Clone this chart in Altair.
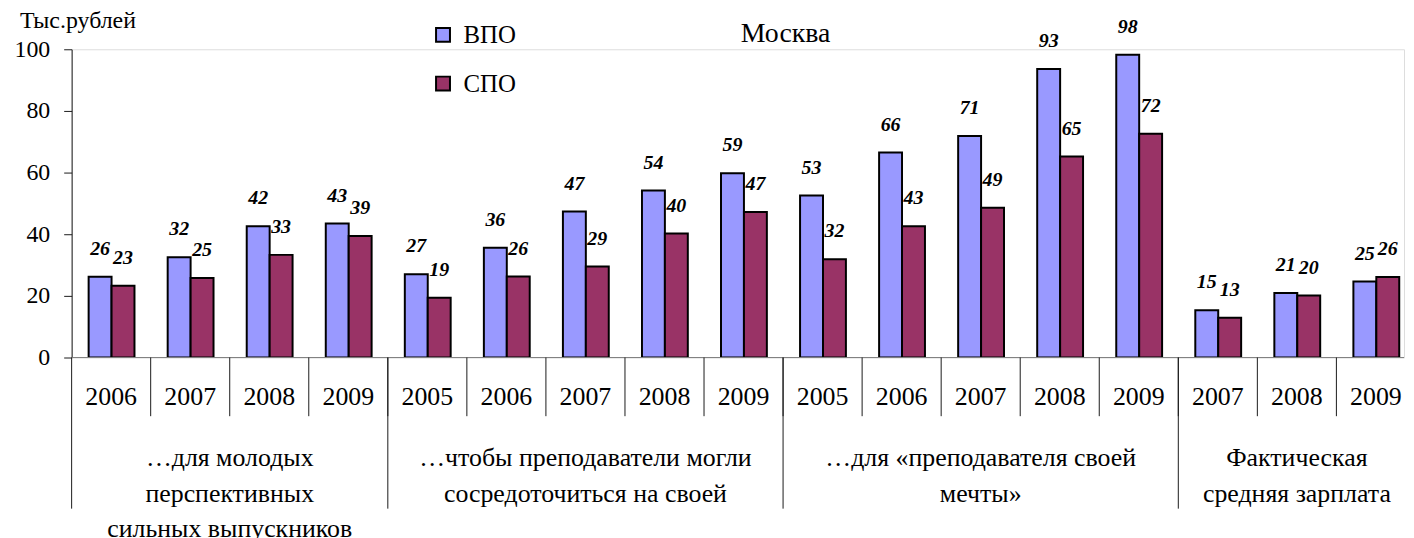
import altair as alt
import pandas as pd

# ---------------- data ----------------
years = ["2006", "2007", "2008", "2009",
         "2005", "2006", "2007", "2008", "2009",
         "2005", "2006", "2007", "2008", "2009",
         "2007", "2008", "2009"]
vpo_values = [26.2, 32.5, 42.6, 43.5,
              27.0, 35.6, 47.4, 54.2, 59.8,
              52.6, 66.5, 71.9, 93.6, 98.2,
              15.3, 20.9, 24.7]
spo_values = [23.3, 25.8, 33.3, 39.4,
              19.4, 26.3, 29.5, 40.2, 47.2,
              31.9, 42.6, 48.6, 65.2, 72.6,
              12.9, 20.1, 26.1]
vpo_labels = [26, 32, 42, 43, 27, 36, 47, 54, 59, 53, 66, 71, 93, 98, 15, 21, 25]
spo_labels = [23, 25, 33, 39, 19, 26, 29, 40, 47, 32, 43, 49, 65, 72, 13, 20, 26]
series_names = ["ВПО", "СПО"]
series_colors = ["#9999FF", "#993366"]
group_sizes = [4, 5, 5, 3]
group_texts = [
    "…для молодых\nперспективных\nсильных выпускников",
    "…чтобы преподаватели могли\nсосредоточиться на своей",
    "…для «преподавателя своей\nмечты»",
    "Фактическая\nсредняя зарплата",
]
y_ticks = [0, 20, 40, 60, 80, 100]
y_title = "Тыс.рублей"
chart_title = "Москва"

# ---------------- layout ----------------
FONT = "Liberation Serif"
PLOT_W, PLOT_H = 1340, 310
STEP = 79.5
X_MAX = PLOT_W / STEP
BAR_W = 0.29
OFFSETS = [0.215, 0.505]
LINE_COLOR = "#1a1a1a"
AXIS_GRAY = "#7f7f7f"

rows = []
for i, yr in enumerate(years):
    for s, vals, labs, off in ((series_names[0], vpo_values, vpo_labels, OFFSETS[0]),
                               (series_names[1], spo_values, spo_labels, OFFSETS[1])):
        rows.append(dict(idx=i, year=yr, series=s, value=vals[i], label=str(labs[i]),
                         x0=i + off, x1=i + off + BAR_W, xc=i + off + BAR_W / 2))
bars_df = pd.DataFrame(rows)

year_df = pd.DataFrame({"xc": [i + 0.5 for i in range(len(years))], "year": years})
year_bounds = pd.DataFrame({"b": list(range(1, len(years)))})
starts = [sum(group_sizes[:k]) for k in range(len(group_sizes))]
group_bounds = pd.DataFrame({"b": starts})
group_df = pd.DataFrame({"xc": [s + n / 2 for s, n in zip(starts, group_sizes)],
                         "text": group_texts})

xscale = alt.Scale(domain=[0, X_MAX], nice=False, zero=False)
yscale = alt.Scale(domain=[0, 100], nice=False)

bars = alt.Chart(bars_df).mark_bar(stroke="black", strokeWidth=2, clip=True).encode(
    x=alt.X("x0:Q", scale=xscale, axis=None),
    x2="x1:Q",
    y=alt.Y("value:Q", scale=yscale,
            axis=alt.Axis(values=y_ticks, title=None, tickSize=8, labelPadding=14,
                          grid=False, domainColor=LINE_COLOR, tickColor=LINE_COLOR,
                          labelFont=FONT, labelFontSize=24, labelColor="black")),
    y2=alt.datum(0),
    fill=alt.Fill("series:N", scale=alt.Scale(domain=series_names, range=series_colors),
                  legend=alt.Legend(title=None, orient="none", legendX=361, legendY=-27,
                                    direction="vertical", symbolType="square",
                                    symbolSize=196, symbolStrokeColor="black",
                                    symbolStrokeWidth=2, symbolOpacity=1,
                                    labelFont=FONT, labelFontSize=25, labelColor="black",
                                    rowPadding=23, padding=0, labelOffset=8)),
)

value_labels = alt.Chart(bars_df).mark_text(
    font=FONT, fontSize=20, fontWeight="bold", fontStyle="italic",
    baseline="middle", dy=-28, color="black"
).encode(x=alt.X("xc:Q", scale=xscale), y=alt.Y("value:Q", scale=yscale), text="label:N")

xaxis_line = alt.Chart(pd.DataFrame({"v": [0]})).mark_rule(color=AXIS_GRAY, strokeWidth=1).encode(
    y=alt.Y("v:Q", scale=yscale))

year_rules = alt.Chart(year_bounds).mark_rule(color=LINE_COLOR, strokeWidth=1).encode(
    x=alt.X("b:Q", scale=xscale), y=alt.value(PLOT_H), y2=alt.value(PLOT_H + 59))

group_rules = alt.Chart(group_bounds).mark_rule(color=LINE_COLOR, strokeWidth=1).encode(
    x=alt.X("b:Q", scale=xscale), y=alt.value(PLOT_H), y2=alt.value(PLOT_H + 152))

year_text = alt.Chart(year_df).mark_text(font=FONT, fontSize=26, baseline="middle", color="black").encode(
    x=alt.X("xc:Q", scale=xscale), y=alt.value(PLOT_H + 40), text="year:N")

group_text = alt.Chart(group_df).mark_text(
    font=FONT, fontSize=26, baseline="top", lineBreak="\n", lineHeight=36, color="black"
).encode(x=alt.X("xc:Q", scale=xscale), y=alt.value(PLOT_H + 88), text="text:N")

ytitle = alt.Chart(pd.DataFrame({"t": [y_title]})).mark_text(
    font=FONT, fontSize=24, align="left", baseline="middle", color="black"
).encode(x=alt.value(-52), y=alt.value(-28), text="t:N")

ctitle = alt.Chart(pd.DataFrame({"t": [chart_title]})).mark_text(
    font=FONT, fontSize=28, align="center", baseline="middle", color="black"
).encode(x=alt.value(718), y=alt.value(-15), text="t:N")

chart = alt.layer(
    bars, xaxis_line, year_rules, group_rules, value_labels, year_text, group_text, ytitle, ctitle
).properties(
    width=PLOT_W, height=PLOT_H,
    autosize=alt.AutoSizeParams(type="none"),
    padding={"left": 64, "top": 40, "right": 2, "bottom": 180},
).configure_view(stroke=None).configure(background="white")

chart.save("out.html", embed_options={"renderer": "svg", "actions": False})
